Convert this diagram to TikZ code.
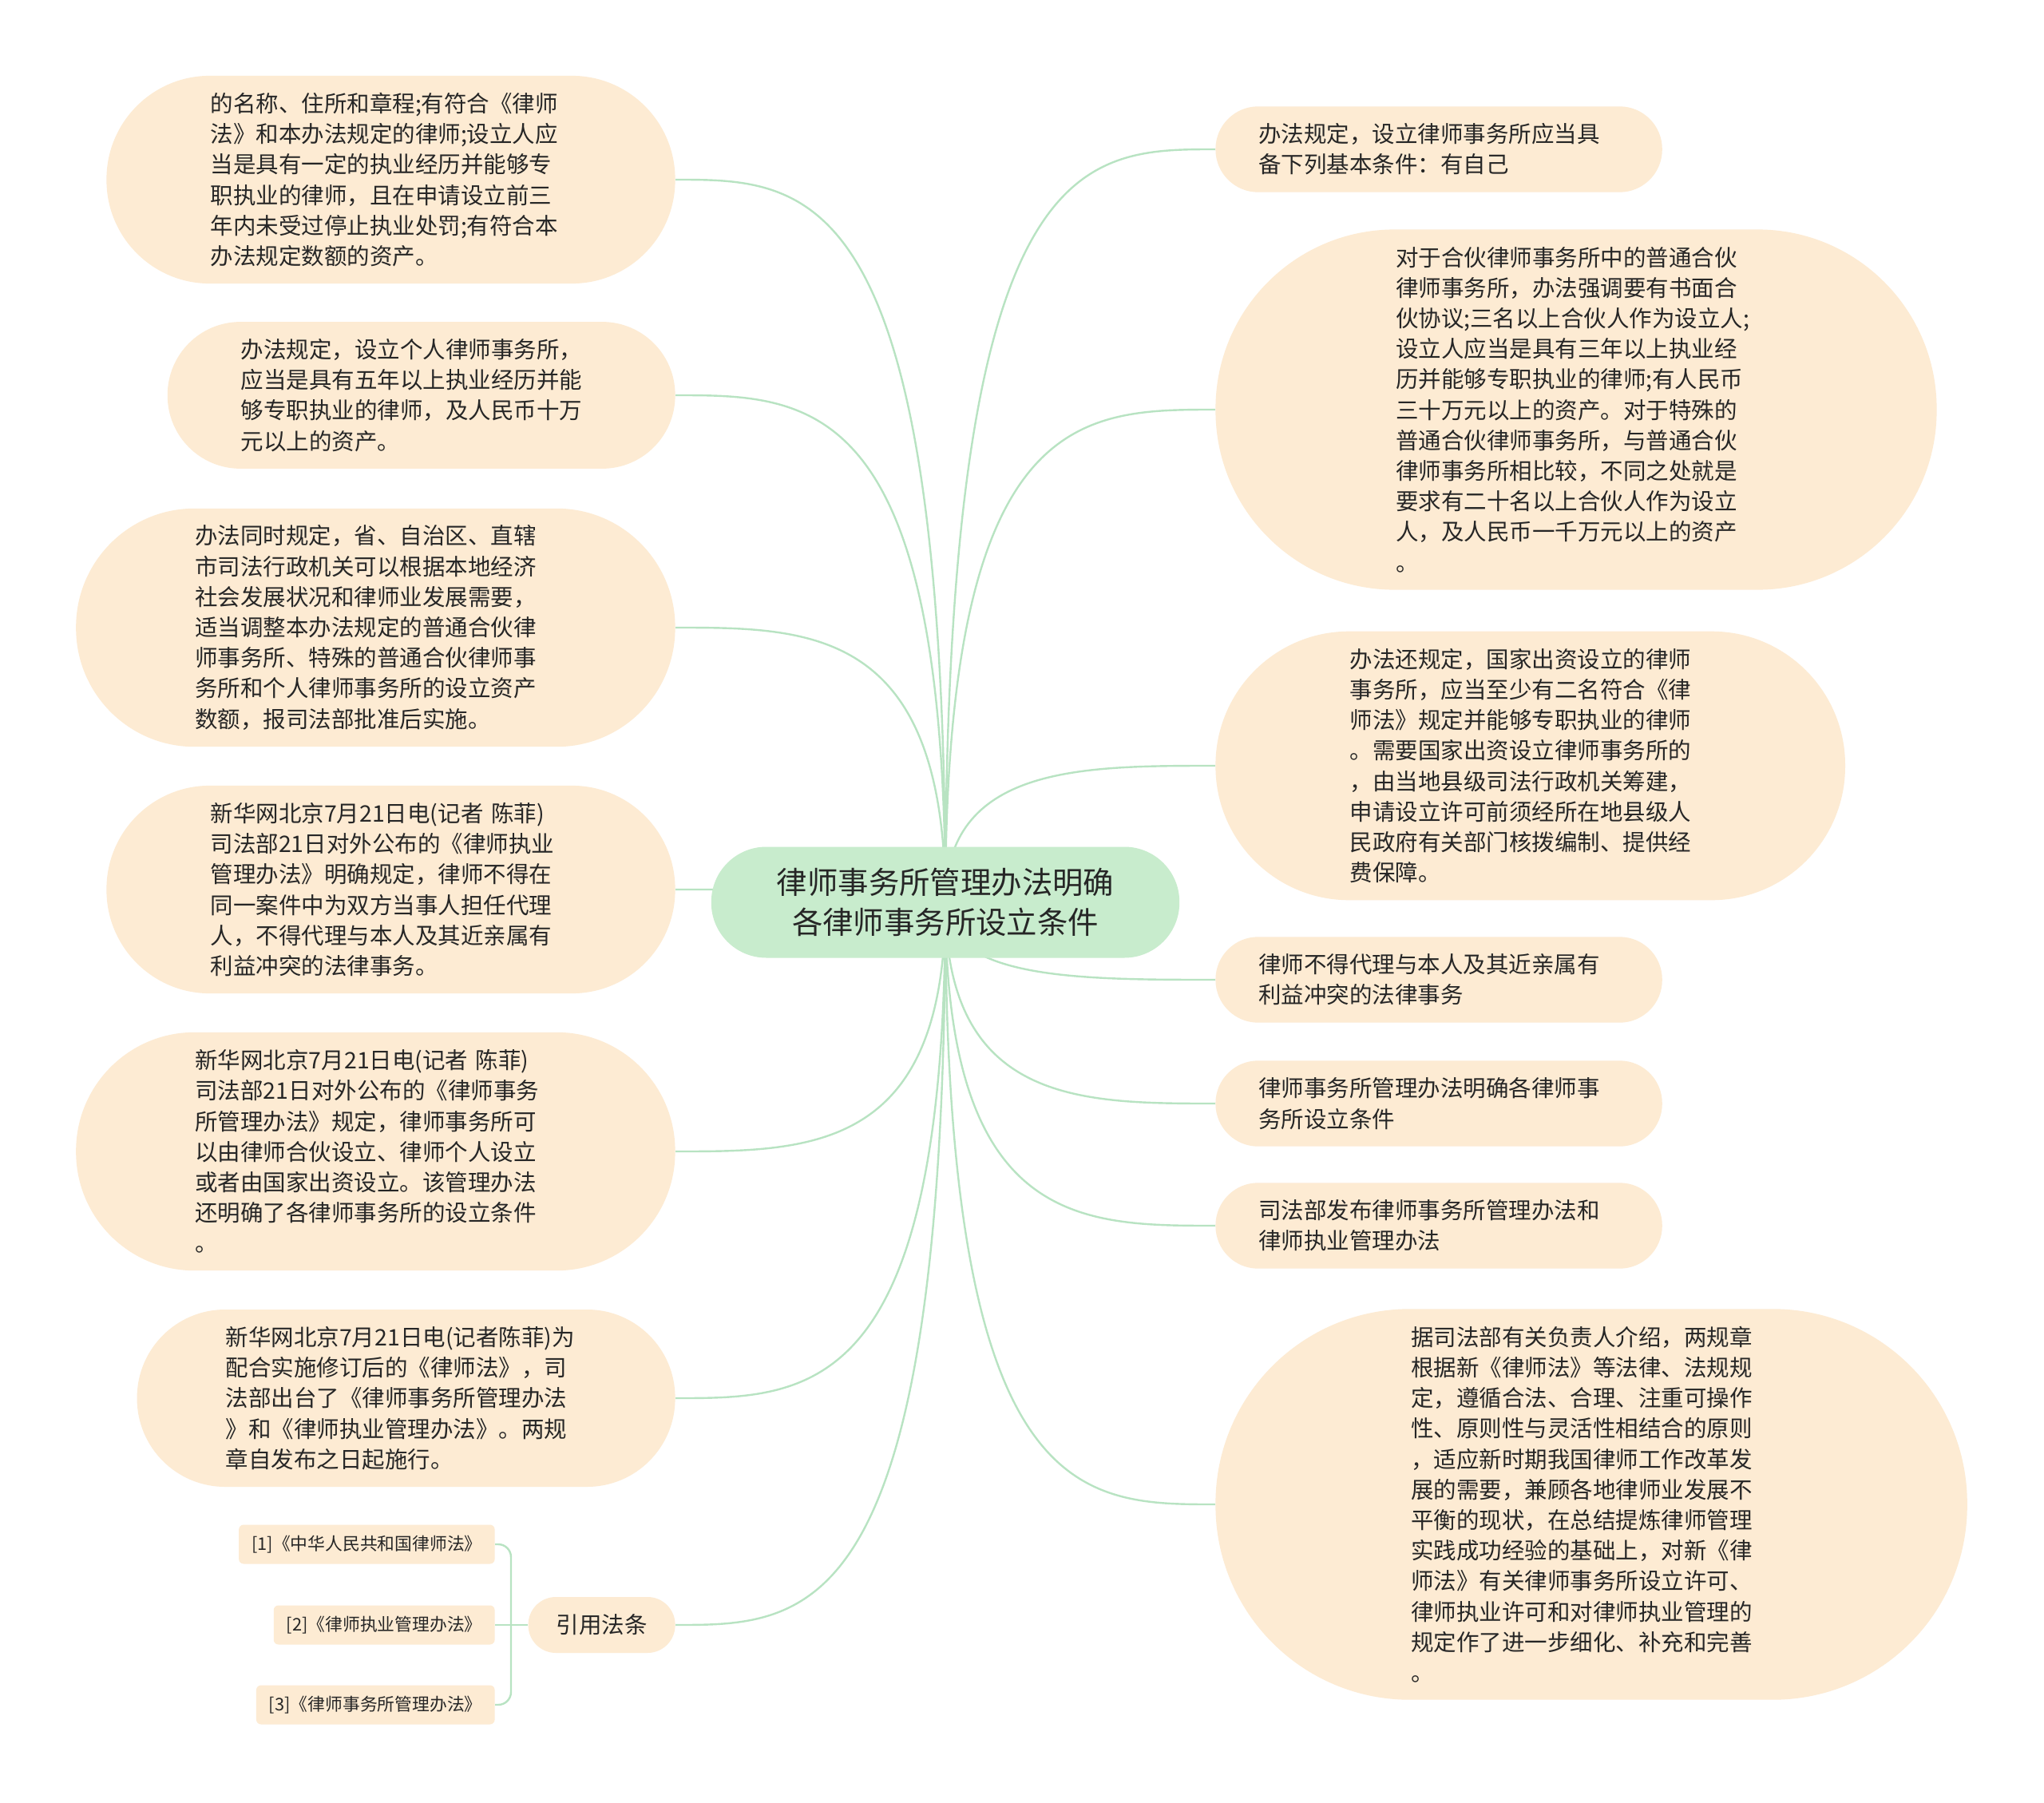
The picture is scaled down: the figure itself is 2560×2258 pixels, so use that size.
\documentclass[tikz,border=0pt]{standalone}
\usepackage{fontspec}
\setmainfont{Noto Sans CJK SC}
\usetikzlibrary{calc,backgrounds}
\definecolor{mmpeach}{HTML}{FDEBD3}
\definecolor{mmgreen}{HTML}{C8ECCD}
\definecolor{mmline}{HTML}{B8E3C2}
\definecolor{mmtext}{HTML}{262626}

\begin{document}
\begin{tikzpicture}[
  x=0.5pt, y=-0.5pt,
  topic/.style={rectangle, fill=mmgreen, text=mmtext, align=center,
                font=\fontsize{19.2pt}{25.3pt}\selectfont,
                minimum height=69.5pt, inner xsep=41pt, inner ysep=0pt,
                rounded corners=34.5pt},
  % #1 = number of text lines
  leaf/.style={rectangle, fill=mmpeach, text=mmtext, text width=226pt,
               align=left, font=\fontsize{14.25pt}{19.1pt}\selectfont,
               minimum height={(19.1*#1+15.5)*1pt},
               inner xsep={(9.55*#1+7.75)*1pt}, inner ysep=0pt,
               rounded corners={(9.5*#1+7.7)*1pt}},
  branch/.style={rectangle, fill=mmpeach, text=mmtext,
                 font=\fontsize{14.25pt}{19.1pt}\selectfont,
                 minimum height=35pt, inner xsep=17.5pt, inner ysep=0pt,
                 rounded corners=17.3pt},
  citebox/.style={rectangle, rounded corners=3pt, fill=mmpeach, text=mmtext,
                  font=\fontsize{10.9pt}{13pt}\selectfont,
                  minimum height=24.5pt, inner xsep=8pt, anchor=east},
  link/.style={draw=mmline, line width=1.2pt},
]

\useasboundingbox (0,0) rectangle (2560,2258);

%% Central topic
\node[topic] (hub) at (1184,1130) {律师事务所管理办法明确\\各律师事务所设立条件};

%% Left side
\node[leaf=6, anchor=east] (la) at (846,225) {的名称、住所和章程;有符合《律师\\法》和本办法规定的律师;设立人应\\当是具有一定的执业经历并能够专\\职执业的律师，且在申请设立前三\\年内未受过停止执业处罚;有符合本\\办法规定数额的资产。};
\node[leaf=4, anchor=east] (lb) at (846,495) {办法规定，设立个人律师事务所，\\应当是具有五年以上执业经历并能\\够专职执业的律师，及人民币十万\\元以上的资产。};
\node[leaf=7, anchor=east] (lc) at (846,786) {办法同时规定，省、自治区、直辖\\市司法行政机关可以根据本地经济\\社会发展状况和律师业发展需要，\\适当调整本办法规定的普通合伙律\\师事务所、特殊的普通合伙律师事\\务所和个人律师事务所的设立资产\\数额，报司法部批准后实施。};
\node[leaf=6, anchor=east] (ld) at (846,1114) {新华网北京7月21日电(记者 陈菲)\\司法部21日对外公布的《律师执业\\管理办法》明确规定，律师不得在\\同一案件中为双方当事人担任代理\\人，不得代理与本人及其近亲属有\\利益冲突的法律事务。};
\node[leaf=7, anchor=east] (le) at (846,1442) {新华网北京7月21日电(记者 陈菲)\\司法部21日对外公布的《律师事务\\所管理办法》规定，律师事务所可\\以由律师合伙设立、律师个人设立\\或者由国家出资设立。该管理办法\\还明确了各律师事务所的设立条件\\。};
\node[leaf=5, anchor=east] (lf) at (846,1751) {新华网北京7月21日电(记者陈菲)为\\配合实施修订后的《律师法》，司\\法部出台了《律师事务所管理办法\\》和《律师执业管理办法》。两规\\章自发布之日起施行。};
\node[branch, anchor=east] (cite) at (846,2035) {引用法条};

%% Cited laws
\node[citebox] (ca) at (620,1934) {[1]《中华人民共和国律师法》};
\node[citebox] (cb) at (620,2035) {[2]《律师执业管理办法》};
\node[citebox] (cc) at (620,2135) {[3]《律师事务所管理办法》};
\coordinate (cj) at (640,2035);

%% Right side
\node[leaf=2, anchor=west] (ra) at (1522,187) {办法规定，设立律师事务所应当具\\备下列基本条件：有自己};
\node[leaf=11, anchor=west] (rb) at (1522,513) {对于合伙律师事务所中的普通合伙\\律师事务所，办法强调要有书面合\\伙协议;三名以上合伙人作为设立人;\\设立人应当是具有三年以上执业经\\历并能够专职执业的律师;有人民币\\三十万元以上的资产。对于特殊的\\普通合伙律师事务所，与普通合伙\\律师事务所相比较，不同之处就是\\要求有二十名以上合伙人作为设立\\人，及人民币一千万元以上的资产\\。};
\node[leaf=8, anchor=west] (rc) at (1522,959) {办法还规定，国家出资设立的律师\\事务所，应当至少有二名符合《律\\师法》规定并能够专职执业的律师\\。需要国家出资设立律师事务所的\\，由当地县级司法行政机关筹建，\\申请设立许可前须经所在地县级人\\民政府有关部门核拨编制、提供经\\费保障。};
\node[leaf=2, anchor=west] (rd) at (1522,1227) {律师不得代理与本人及其近亲属有\\利益冲突的法律事务};
\node[leaf=2, anchor=west] (re) at (1522,1382) {律师事务所管理办法明确各律师事\\务所设立条件};
\node[leaf=2, anchor=west] (rf) at (1522,1535) {司法部发布律师事务所管理办法和\\律师执业管理办法};
\node[leaf=12, anchor=west] (rg) at (1522,1884) {据司法部有关负责人介绍，两规章\\根据新《律师法》等法律、法规规\\定，遵循合法、合理、注重可操作\\性、原则性与灵活性相结合的原则\\，适应新时期我国律师工作改革发\\展的需要，兼顾各地律师业发展不\\平衡的现状，在总结提炼律师管理\\实践成功经验的基础上，对新《律\\师法》有关律师事务所设立许可、\\律师执业许可和对律师执业管理的\\规定作了进一步细化、补充和完善\\。};

%% Connectors behind the nodes
\begin{pgfonlayer}{background}
\fill[white] (0,0) rectangle (2560,2258);
\foreach \n in {la,lb,lc,ld,le,lf,cite}
  \draw[link] (hub.center) .. controls (hub.center |- \n.east)
    and ($(hub.center |- \n.east)!0.5!(\n.east)$) .. (\n.east);
\foreach \n in {ra,rb,rc,rd,re,rf,rg}
  \draw[link] (hub.center) .. controls (hub.center |- \n.west)
    and ($(hub.center |- \n.west)!0.5!(\n.west)$) .. (\n.west);
\draw[link] (cite.west) -- (cj);
\draw[link, rounded corners=8pt] (cj) |- (ca.east);
\draw[link] (cj) -- (cb.east);
\draw[link, rounded corners=8pt] (cj) |- (cc.east);
\end{pgfonlayer}

\end{tikzpicture}
\end{document}
